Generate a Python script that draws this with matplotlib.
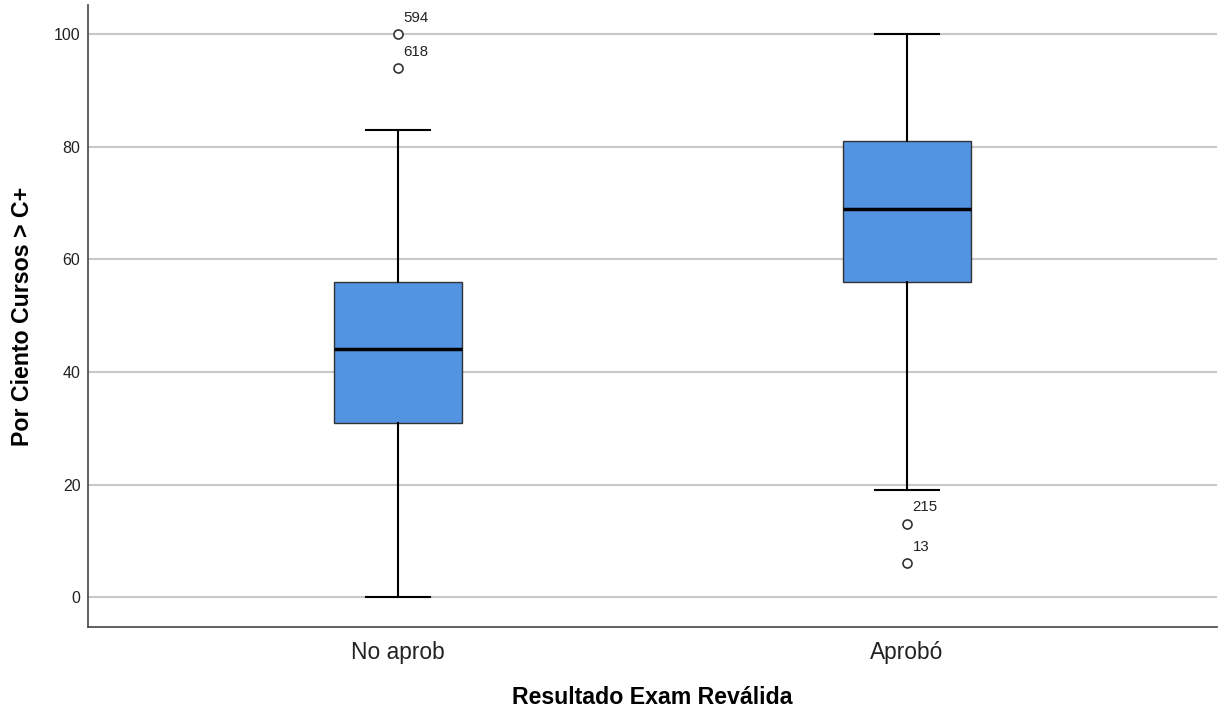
import numpy as np
import matplotlib.pyplot as plt

plt.rcParams['font.family'] = ['Liberation Sans', 'DejaVu Sans']

# summary stats
groups = ['No aprob', 'Aprobó']
whislo = [0, 19]
q1 = [31, 56]
med = [44, 69]
q3 = [56, 81]
whishi = [83, 100]
fliers = [[100, 94], [13, 6]]
flier_ids = [['594', '618'], ['215', '13']]

stats = []
for i in range(len(groups)):
    stats.append(dict(label=groups[i], whislo=whislo[i], q1=q1[i], med=med[i],
                      q3=q3[i], whishi=whishi[i], fliers=fliers[i]))

fig = plt.figure(figsize=(12.21, 7.12), dpi=100)
ax = fig.add_axes([0.0721, 0.1194, 0.9246, 0.8736])

ax.yaxis.grid(True, color='#c8c8c8', linewidth=1.5, zorder=0)
ax.set_axisbelow(True)

ax.bxp(stats, positions=[1, 2], widths=0.25, patch_artist=True,
       boxprops=dict(facecolor='#5294e2', edgecolor='#333333', linewidth=1.0),
       medianprops=dict(color='black', linewidth=2.5),
       whiskerprops=dict(color='black', linewidth=1.5),
       capprops=dict(color='black', linewidth=1.5),
       capwidths=0.126,
       flierprops=dict(marker='o', markerfacecolor='white', markeredgecolor='#333333',
                       markersize=6.5, markeredgewidth=1.2))

for i in range(len(groups)):
    for v, lab in zip(fliers[i], flier_ids[i]):
        ax.annotate(lab, (i + 1, v), xytext=(4, 9), textcoords='offset points',
                    fontsize=10.8, color='#222222')

ax.set_xlim(0.391, 2.609)
ax.set_ylim(-5.3, 105.2)
ax.set_yticks([0, 20, 40, 60, 80, 100])
ax.tick_params(axis='y', length=0, labelsize=11.5, pad=5.5, labelcolor='#222222')
ax.tick_params(axis='x', length=0, labelsize=16.4, pad=10, labelcolor='#222222')
ax.set_xticks([1, 2])
ax.set_xticklabels(groups)

for s in ['top', 'right']:
    ax.spines[s].set_visible(False)
ax.spines['left'].set_color('#444444')
ax.spines['bottom'].set_color('#444444')
ax.spines['left'].set_linewidth(1.2)
ax.spines['bottom'].set_linewidth(1.2)

ax.set_ylabel('Por Ciento Cursos > C+', fontsize=16.7, fontweight='bold', labelpad=14)
ax.set_xlabel('Resultado Exam Reválida', fontsize=16.7, fontweight='bold', labelpad=16)

plt.savefig('out.png', dpi=100)
